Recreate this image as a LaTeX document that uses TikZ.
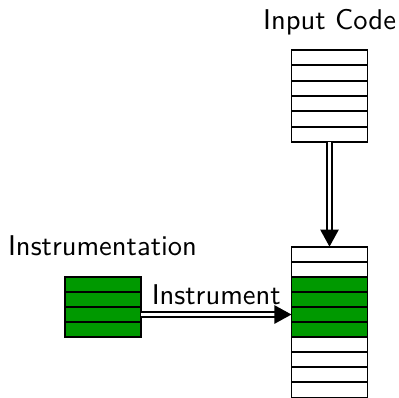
\documentclass[tikz,border=0pt]{standalone}
\usetikzlibrary{arrows.meta}
\begin{document}
\begin{tikzpicture}[x=0.35pt,y=-0.35pt,
  cell/.style={draw=black, line width=0.6pt, minimum width=26.6pt, minimum height=5.28pt, inner sep=0pt, outer sep=0pt, fill=white},
  gcell/.style={cell, fill=green!60!black},
  lbl/.style={font=\sffamily, inner sep=0pt},
  dblarrow/.style={draw=black, double=white, line width=0.65pt, double distance=1.3pt, -{Triangle[length=6pt,width=6.4pt]}}]
\useasboundingbox (0,0) rectangle (399,398);
% top stack (input code)
\foreach \i in {1,...,6}{
  \node[cell] (t\i) at (329.5,{50+15.33*(\i-0.5)}) {};
}
% bottom stack
\foreach \i in {1,...,10}{
  \ifnum\i>2 \ifnum\i<7
    \node[gcell] (b\i) at (329.5,{246.7+15.07*(\i-0.5)}) {};
  \else
    \node[cell] (b\i) at (329.5,{246.7+15.07*(\i-0.5)}) {};
  \fi\else
    \node[cell] (b\i) at (329.5,{246.7+15.07*(\i-0.5)}) {};
  \fi
}
% green instrumentation stack
\foreach \i in {1,...,4}{
  \node[gcell] (g\i) at (103,{246.7+15.07*(\i+1.5)}) {};
}
% labels
\node[lbl] (input) at (329.5,22) {Input Code};
\node[lbl] (instr) at (102.5,246) {Instrumentation};
% connectors
\draw[dblarrow] (t6.south) -- (b1.north);
\draw[dblarrow] (g3.east) -- node[lbl, above=3.2pt] (ilbl) {Instrument} (b5.west);
\end{tikzpicture}
\end{document}
